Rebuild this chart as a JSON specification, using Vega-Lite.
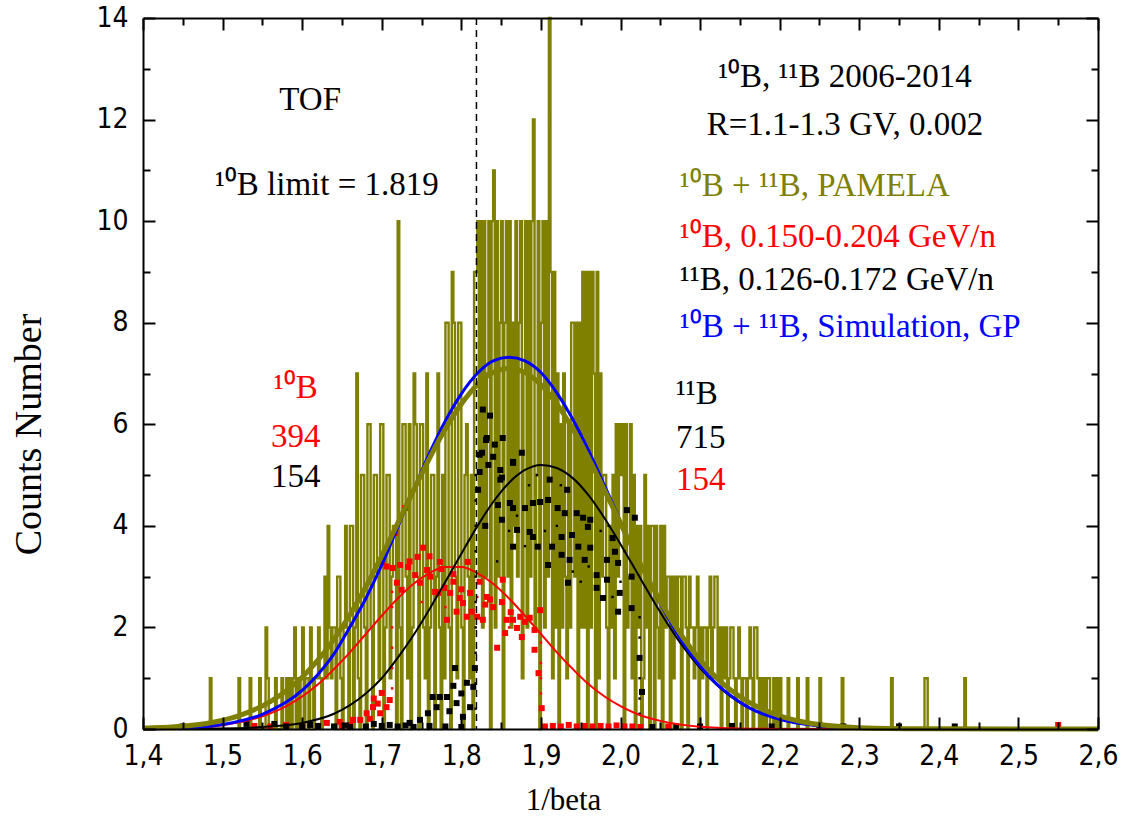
{
"$schema": "https://vega.github.io/schema/vega-lite/v6.json",
"width": 955, "height": 711,
"autosize": {"type": "none"},
"padding": {"left": 143, "top": 18, "right": 23, "bottom": 93},
"background": "white",
"config": {"view": {"stroke": null}, "axis": {"grid": false}},
"resolve": {"axis": {"x": "independent", "y": "independent"}, "scale": {"x": "shared", "y": "shared", "color": "shared"}},
"datasets": {
"hist": [
{"x":1.400,"c":0},{"x":1.484,"c":1},{"x":1.486,"c":0},{"x":1.520,"c":1},{"x":1.522,"c":0},{"x":1.534,"c":1},{"x":1.536,"c":0},{"x":1.546,"c":1},{"x":1.548,"c":0},{"x":1.554,"c":2},{"x":1.556,"c":1},{"x":1.558,"c":0},{"x":1.566,"c":1},{"x":1.568,"c":0},{"x":1.574,"c":1},{"x":1.576,"c":0},{"x":1.580,"c":1},{"x":1.582,"c":0},{"x":1.584,"c":1},{"x":1.586,"c":0},{"x":1.588,"c":1},{"x":1.590,"c":2},{"x":1.592,"c":0},{"x":1.594,"c":1},{"x":1.596,"c":0},{"x":1.598,"c":1},
{"x":1.600,"c":2},{"x":1.602,"c":0},{"x":1.604,"c":1},{"x":1.606,"c":1},{"x":1.608,"c":0},{"x":1.610,"c":2},{"x":1.612,"c":1},{"x":1.614,"c":0},{"x":1.616,"c":1},{"x":1.618,"c":1},
{"x":1.620,"c":2},{"x":1.622,"c":1},{"x":1.624,"c":0},{"x":1.626,"c":1},{"x":1.628,"c":3},{"x":1.630,"c":1},{"x":1.632,"c":4},{"x":1.634,"c":2},{"x":1.636,"c":1},{"x":1.638,"c":2},
{"x":1.640,"c":2},{"x":1.642,"c":0},{"x":1.644,"c":3},{"x":1.646,"c":3},{"x":1.648,"c":1},{"x":1.650,"c":0},{"x":1.652,"c":2},{"x":1.654,"c":4},{"x":1.656,"c":2},{"x":1.658,"c":0},
{"x":1.660,"c":4},{"x":1.662,"c":4},{"x":1.664,"c":0},{"x":1.666,"c":2},{"x":1.668,"c":7},{"x":1.670,"c":1},{"x":1.672,"c":0},{"x":1.674,"c":5},{"x":1.676,"c":5},{"x":1.678,"c":2},
{"x":1.680,"c":0},{"x":1.682,"c":6},{"x":1.684,"c":6},{"x":1.686,"c":2},{"x":1.688,"c":0},{"x":1.690,"c":5},{"x":1.692,"c":5},{"x":1.694,"c":3},{"x":1.696,"c":1},{"x":1.698,"c":6},
{"x":1.700,"c":6},{"x":1.702,"c":0},{"x":1.704,"c":2},{"x":1.706,"c":5},{"x":1.708,"c":5},{"x":1.710,"c":1},{"x":1.712,"c":3},{"x":1.714,"c":4},{"x":1.716,"c":4},{"x":1.718,"c":0},
{"x":1.720,"c":10},{"x":1.722,"c":2},{"x":1.724,"c":0},{"x":1.726,"c":6},{"x":1.728,"c":6},{"x":1.730,"c":3},{"x":1.732,"c":1},{"x":1.734,"c":6},{"x":1.736,"c":0},{"x":1.738,"c":2},
{"x":1.740,"c":7},{"x":1.742,"c":6},{"x":1.744,"c":3},{"x":1.746,"c":0},{"x":1.748,"c":6},{"x":1.750,"c":6},{"x":1.752,"c":2},{"x":1.754,"c":1},{"x":1.756,"c":7},{"x":1.758,"c":0},
{"x":1.760,"c":2},{"x":1.762,"c":5},{"x":1.764,"c":5},{"x":1.766,"c":0},{"x":1.768,"c":3},{"x":1.770,"c":7},{"x":1.772,"c":2},{"x":1.774,"c":0},{"x":1.776,"c":5},{"x":1.778,"c":1},
{"x":1.780,"c":8},{"x":1.782,"c":8},{"x":1.784,"c":2},{"x":1.786,"c":0},{"x":1.788,"c":9},{"x":1.790,"c":8},{"x":1.792,"c":3},{"x":1.794,"c":1},{"x":1.796,"c":8},{"x":1.798,"c":8},
{"x":1.800,"c":2},{"x":1.802,"c":0},{"x":1.804,"c":5},{"x":1.806,"c":6},{"x":1.808,"c":3},{"x":1.810,"c":1},{"x":1.812,"c":5},{"x":1.814,"c":0},{"x":1.816,"c":9},{"x":1.818,"c":9},
{"x":1.820,"c":10},{"x":1.822,"c":3},{"x":1.824,"c":10},{"x":1.826,"c":2},{"x":1.828,"c":10},{"x":1.830,"c":3},{"x":1.832,"c":7},{"x":1.834,"c":10},{"x":1.836,"c":0},{"x":1.838,"c":10},
{"x":1.840,"c":11},{"x":1.842,"c":2},{"x":1.844,"c":10},{"x":1.846,"c":3},{"x":1.848,"c":8},{"x":1.850,"c":10},{"x":1.852,"c":0},{"x":1.854,"c":8},{"x":1.856,"c":10},{"x":1.858,"c":3},
{"x":1.860,"c":10},{"x":1.862,"c":2},{"x":1.864,"c":8},{"x":1.866,"c":4},{"x":1.868,"c":10},{"x":1.870,"c":3},{"x":1.872,"c":8},{"x":1.874,"c":10},{"x":1.876,"c":1},{"x":1.878,"c":7},
{"x":1.880,"c":10},{"x":1.882,"c":2},{"x":1.884,"c":10},{"x":1.886,"c":3},{"x":1.888,"c":10},{"x":1.890,"c":12},{"x":1.892,"c":2},{"x":1.894,"c":5},{"x":1.896,"c":10},{"x":1.898,"c":0},
{"x":1.900,"c":8},{"x":1.902,"c":10},{"x":1.904,"c":2},{"x":1.906,"c":10},{"x":1.908,"c":3},{"x":1.910,"c":14},{"x":1.912,"c":9},{"x":1.914,"c":1},{"x":1.916,"c":9},{"x":1.918,"c":2},
{"x":1.920,"c":7},{"x":1.922,"c":0},{"x":1.924,"c":6},{"x":1.926,"c":2},{"x":1.928,"c":7},{"x":1.930,"c":3},{"x":1.932,"c":1},{"x":1.934,"c":6},{"x":1.936,"c":2},{"x":1.938,"c":8},
{"x":1.940,"c":8},{"x":1.942,"c":3},{"x":1.944,"c":8},{"x":1.946,"c":0},{"x":1.948,"c":8},{"x":1.950,"c":2},{"x":1.952,"c":9},{"x":1.954,"c":2},{"x":1.956,"c":9},{"x":1.958,"c":0},
{"x":1.960,"c":9},{"x":1.962,"c":2},{"x":1.964,"c":9},{"x":1.966,"c":7},{"x":1.968,"c":0},{"x":1.970,"c":9},{"x":1.972,"c":1},{"x":1.974,"c":7},{"x":1.976,"c":3},{"x":1.978,"c":5},
{"x":1.980,"c":5},{"x":1.982,"c":2},{"x":1.984,"c":0},{"x":1.986,"c":4},{"x":1.988,"c":2},{"x":1.990,"c":5},{"x":1.992,"c":1},{"x":1.994,"c":6},{"x":1.996,"c":3},{"x":1.998,"c":6},
{"x":2.000,"c":5},{"x":2.002,"c":6},{"x":2.004,"c":0},{"x":2.006,"c":6},{"x":2.008,"c":2},{"x":2.010,"c":3},{"x":2.012,"c":6},{"x":2.014,"c":1},{"x":2.016,"c":5},{"x":2.018,"c":0},
{"x":2.020,"c":4},{"x":2.022,"c":2},{"x":2.024,"c":4},{"x":2.026,"c":0},{"x":2.028,"c":1},{"x":2.030,"c":5},{"x":2.032,"c":2},{"x":2.034,"c":4},{"x":2.036,"c":0},{"x":2.038,"c":4},
{"x":2.040,"c":4},{"x":2.042,"c":0},{"x":2.044,"c":4},{"x":2.046,"c":2},{"x":2.048,"c":1},{"x":2.050,"c":4},{"x":2.052,"c":0},{"x":2.054,"c":4},{"x":2.056,"c":2},{"x":2.058,"c":3},
{"x":2.060,"c":3},{"x":2.062,"c":0},{"x":2.064,"c":3},{"x":2.066,"c":1},{"x":2.068,"c":3},{"x":2.070,"c":2},{"x":2.072,"c":3},{"x":2.074,"c":3},{"x":2.076,"c":0},{"x":2.078,"c":3},
{"x":2.080,"c":3},{"x":2.082,"c":2},{"x":2.084,"c":0},{"x":2.086,"c":3},{"x":2.088,"c":2},{"x":2.090,"c":2},{"x":2.092,"c":1},{"x":2.094,"c":2},{"x":2.096,"c":3},{"x":2.098,"c":0},
{"x":2.100,"c":2},{"x":2.102,"c":1},{"x":2.104,"c":2},{"x":2.106,"c":2},{"x":2.108,"c":0},{"x":2.110,"c":2},{"x":2.112,"c":3},{"x":2.114,"c":1},{"x":2.116,"c":2},{"x":2.118,"c":3},
{"x":2.120,"c":3},{"x":2.122,"c":1},{"x":2.124,"c":2},{"x":2.126,"c":0},{"x":2.128,"c":2},{"x":2.130,"c":1},{"x":2.132,"c":2},{"x":2.134,"c":0},{"x":2.136,"c":1},{"x":2.138,"c":2},
{"x":2.140,"c":2},{"x":2.142,"c":1},{"x":2.144,"c":0},{"x":2.146,"c":1},{"x":2.148,"c":2},{"x":2.150,"c":1},{"x":2.152,"c":0},{"x":2.154,"c":1},{"x":2.156,"c":1},{"x":2.158,"c":0},
{"x":2.160,"c":1},{"x":2.162,"c":2},{"x":2.164,"c":1},{"x":2.166,"c":0},{"x":2.168,"c":2},{"x":2.170,"c":2},{"x":2.172,"c":1},{"x":2.174,"c":0},{"x":2.176,"c":1},{"x":2.178,"c":0},
{"x":2.180,"c":1},{"x":2.182,"c":0},{"x":2.184,"c":1},{"x":2.186,"c":1},{"x":2.188,"c":0},{"x":2.190,"c":0},{"x":2.192,"c":1},{"x":2.194,"c":0},{"x":2.196,"c":1},{"x":2.198,"c":0},
{"x":2.200,"c":1},{"x":2.202,"c":0},{"x":2.210,"c":1},{"x":2.212,"c":0},{"x":2.222,"c":1},{"x":2.224,"c":0},{"x":2.234,"c":1},{"x":2.236,"c":0},{"x":2.250,"c":1},{"x":2.252,"c":0},{"x":2.278,"c":1},{"x":2.280,"c":0},{"x":2.340,"c":1},{"x":2.342,"c":0},{"x":2.382,"c":1},{"x":2.384,"c":1},{"x":2.386,"c":0},{"x":2.432,"c":1},{"x":2.434,"c":0},{"x":2.600,"c":0}
],
"fits": [
{"x":1.40,"y":0.016,"s":"pamela"},{"x":1.44,"y":0.045,"s":"pamela"},{"x":1.48,"y":0.11,"s":"pamela"},{"x":1.52,"y":0.26,"s":"pamela"},{"x":1.56,"y":0.54,"s":"pamela"},{"x":1.60,"y":1.02,"s":"pamela"},{"x":1.62,"y":1.36,"s":"pamela"},{"x":1.64,"y":1.77,"s":"pamela"},{"x":1.66,"y":2.25,"s":"pamela"},{"x":1.68,"y":2.80,"s":"pamela"},{"x":1.70,"y":3.41,"s":"pamela"},{"x":1.72,"y":4.05,"s":"pamela"},{"x":1.74,"y":4.70,"s":"pamela"},{"x":1.76,"y":5.33,"s":"pamela"},{"x":1.78,"y":5.91,"s":"pamela"},{"x":1.80,"y":6.40,"s":"pamela"},{"x":1.82,"y":6.78,"s":"pamela"},{"x":1.84,"y":7.02,"s":"pamela"},{"x":1.86,"y":7.10,"s":"pamela"},{"x":1.88,"y":7.02,"s":"pamela"},{"x":1.90,"y":6.78,"s":"pamela"},{"x":1.92,"y":6.40,"s":"pamela"},{"x":1.94,"y":5.91,"s":"pamela"},{"x":1.96,"y":5.33,"s":"pamela"},{"x":1.98,"y":4.70,"s":"pamela"},{"x":2.00,"y":4.05,"s":"pamela"},{"x":2.02,"y":3.41,"s":"pamela"},{"x":2.04,"y":2.80,"s":"pamela"},{"x":2.06,"y":2.25,"s":"pamela"},{"x":2.08,"y":1.77,"s":"pamela"},{"x":2.10,"y":1.36,"s":"pamela"},{"x":2.12,"y":1.02,"s":"pamela"},{"x":2.16,"y":0.54,"s":"pamela"},{"x":2.20,"y":0.26,"s":"pamela"},{"x":2.24,"y":0.11,"s":"pamela"},{"x":2.28,"y":0.045,"s":"pamela"},{"x":2.32,"y":0.016,"s":"pamela"},{"x":2.40,"y":0.003,"s":"pamela"},{"x":2.60,"y":0,"s":"pamela"},
{"x":1.40,"y":0.004,"s":"b10"},{"x":1.45,"y":0.019,"s":"b10"},{"x":1.50,"y":0.076,"s":"b10"},{"x":1.55,"y":0.25,"s":"b10"},{"x":1.58,"y":0.45,"s":"b10"},{"x":1.60,"y":0.64,"s":"b10"},{"x":1.62,"y":0.88,"s":"b10"},{"x":1.64,"y":1.18,"s":"b10"},{"x":1.66,"y":1.51,"s":"b10"},{"x":1.68,"y":1.87,"s":"b10"},{"x":1.70,"y":2.23,"s":"b10"},{"x":1.72,"y":2.57,"s":"b10"},{"x":1.74,"y":2.86,"s":"b10"},{"x":1.76,"y":3.07,"s":"b10"},{"x":1.78,"y":3.19,"s":"b10"},{"x":1.80,"y":3.19,"s":"b10"},{"x":1.82,"y":3.07,"s":"b10"},{"x":1.84,"y":2.86,"s":"b10"},{"x":1.86,"y":2.57,"s":"b10"},{"x":1.88,"y":2.23,"s":"b10"},{"x":1.90,"y":1.87,"s":"b10"},{"x":1.92,"y":1.51,"s":"b10"},{"x":1.94,"y":1.18,"s":"b10"},{"x":1.96,"y":0.88,"s":"b10"},{"x":1.98,"y":0.64,"s":"b10"},{"x":2.00,"y":0.45,"s":"b10"},{"x":2.02,"y":0.30,"s":"b10"},{"x":2.05,"y":0.16,"s":"b10"},{"x":2.10,"y":0.044,"s":"b10"},{"x":2.15,"y":0.01,"s":"b10"},{"x":2.20,"y":0.002,"s":"b10"},{"x":2.60,"y":0,"s":"b10"},
{"x":1.40,"y":0,"s":"b11"},{"x":1.50,"y":0.01,"s":"b11"},{"x":1.55,"y":0.04,"s":"b11"},{"x":1.60,"y":0.12,"s":"b11"},{"x":1.64,"y":0.30,"s":"b11"},{"x":1.68,"y":0.70,"s":"b11"},{"x":1.70,"y":1.0,"s":"b11"},{"x":1.72,"y":1.40,"s":"b11"},{"x":1.74,"y":1.85,"s":"b11"},{"x":1.76,"y":2.36,"s":"b11"},{"x":1.78,"y":2.90,"s":"b11"},{"x":1.80,"y":3.45,"s":"b11"},{"x":1.82,"y":3.99,"s":"b11"},{"x":1.84,"y":4.47,"s":"b11"},{"x":1.86,"y":4.85,"s":"b11"},{"x":1.88,"y":5.10,"s":"b11"},{"x":1.90,"y":5.20,"s":"b11"},{"x":1.92,"y":5.14,"s":"b11"},{"x":1.94,"y":4.94,"s":"b11"},{"x":1.96,"y":4.60,"s":"b11"},{"x":1.98,"y":4.15,"s":"b11"},{"x":2.00,"y":3.64,"s":"b11"},{"x":2.02,"y":3.10,"s":"b11"},{"x":2.04,"y":2.56,"s":"b11"},{"x":2.06,"y":2.05,"s":"b11"},{"x":2.08,"y":1.59,"s":"b11"},{"x":2.10,"y":1.20,"s":"b11"},{"x":2.12,"y":0.88,"s":"b11"},{"x":2.14,"y":0.62,"s":"b11"},{"x":2.16,"y":0.43,"s":"b11"},{"x":2.20,"y":0.19,"s":"b11"},{"x":2.25,"y":0.06,"s":"b11"},{"x":2.30,"y":0.015,"s":"b11"},{"x":2.40,"y":0,"s":"b11"},{"x":2.60,"y":0,"s":"b11"},
{"x":1.40,"y":0.004,"s":"sim"},{"x":1.45,"y":0.021,"s":"sim"},{"x":1.50,"y":0.087,"s":"sim"},{"x":1.55,"y":0.29,"s":"sim"},{"x":1.60,"y":0.76,"s":"sim"},{"x":1.62,"y":1.08,"s":"sim"},{"x":1.64,"y":1.48,"s":"sim"},{"x":1.66,"y":2.01,"s":"sim"},{"x":1.68,"y":2.57,"s":"sim"},{"x":1.70,"y":3.23,"s":"sim"},{"x":1.72,"y":3.97,"s":"sim"},{"x":1.74,"y":4.71,"s":"sim"},{"x":1.76,"y":5.43,"s":"sim"},{"x":1.78,"y":6.07,"s":"sim"},{"x":1.80,"y":6.60,"s":"sim"},{"x":1.82,"y":7.00,"s":"sim"},{"x":1.84,"y":7.25,"s":"sim"},{"x":1.86,"y":7.32,"s":"sim"},{"x":1.88,"y":7.25,"s":"sim"},{"x":1.90,"y":7.02,"s":"sim"},{"x":1.92,"y":6.62,"s":"sim"},{"x":1.94,"y":6.10,"s":"sim"},{"x":1.96,"y":5.48,"s":"sim"},{"x":1.98,"y":4.79,"s":"sim"},{"x":2.00,"y":4.09,"s":"sim"},{"x":2.02,"y":3.40,"s":"sim"},{"x":2.04,"y":2.78,"s":"sim"},{"x":2.06,"y":2.18,"s":"sim"},{"x":2.08,"y":1.66,"s":"sim"},{"x":2.10,"y":1.24,"s":"sim"},{"x":2.12,"y":0.90,"s":"sim"},{"x":2.14,"y":0.64,"s":"sim"},{"x":2.16,"y":0.43,"s":"sim"},{"x":2.20,"y":0.19,"s":"sim"},{"x":2.25,"y":0.06,"s":"sim"},{"x":2.30,"y":0.015,"s":"sim"},{"x":2.40,"y":0.002,"s":"sim"},{"x":2.60,"y":0,"s":"sim"}
],
"pts": [
{"x":1.729,"y":4.35,"s":"b10"},{"x":1.717,"y":3.86,"s":"b10"},{"x":1.752,"y":3.57,"s":"b10"},{"x":1.745,"y":3.39,"s":"b10"},{"x":1.723,"y":3.23,"s":"b10"},{"x":1.714,"y":3.17,"s":"b10"},{"x":1.733,"y":3.19,"s":"b10"},{"x":1.773,"y":3.29,"s":"b10"},{"x":1.757,"y":3.13,"s":"b10"},{"x":1.742,"y":3.03,"s":"b10"},{"x":1.761,"y":3.0,"s":"b10"},{"x":1.748,"y":2.88,"s":"b10"},{"x":1.719,"y":2.88,"s":"b10"},{"x":1.725,"y":2.74,"s":"b10"},{"x":1.767,"y":2.70,"s":"b10"},{"x":1.771,"y":2.68,"s":"b10"},{"x":1.779,"y":2.78,"s":"b10"},{"x":1.786,"y":2.68,"s":"b10"},{"x":1.798,"y":2.58,"s":"b10"},{"x":1.794,"y":2.31,"s":"b10"},{"x":1.782,"y":2.15,"s":"b10"},{"x":1.807,"y":2.21,"s":"b10"},{"x":1.813,"y":2.31,"s":"b10"},{"x":1.802,"y":2.48,"s":"b10"},{"x":1.811,"y":2.68,"s":"b10"},{"x":1.808,"y":3.29,"s":"b10"},{"x":1.823,"y":2.90,"s":"b10"},{"x":1.832,"y":2.60,"s":"b10"},{"x":1.827,"y":2.15,"s":"b10"},{"x":1.840,"y":2.40,"s":"b10"},{"x":1.851,"y":2.50,"s":"b10"},{"x":1.852,"y":2.94,"s":"b10"},{"x":1.857,"y":2.15,"s":"b10"},{"x":1.865,"y":2.15,"s":"b10"},{"x":1.870,"y":1.99,"s":"b10"},{"x":1.845,"y":1.60,"s":"b10"},{"x":1.820,"y":2.21,"s":"b10"},{"x":1.701,"y":3.29,"s":"b10"},{"x":1.706,"y":3.2,"s":"b10"},{"x":1.874,"y":2.21,"s":"b10"},{"x":1.880,"y":2.11,"s":"b10"},{"x":1.886,"y":2.19,"s":"b10"},{"x":1.892,"y":1.95,"s":"b10"},{"x":1.899,"y":2.34,"s":"b10"},{"x":1.876,"y":1.81,"s":"b10"},{"x":1.855,"y":1.89,"s":"b10"},{"x":1.892,"y":1.56,"s":"b10"},{"x":1.897,"y":1.10,"s":"b10"},{"x":1.901,"y":0.41,"s":"b10"},{"x":1.735,"y":3.3,"s":"b10"},{"x":1.76,"y":3.4,"s":"b10"},{"x":1.79,"y":3.05,"s":"b10"},{"x":1.775,"y":3.15,"s":"b10"},{"x":1.83,"y":2.45,"s":"b10"},{"x":1.836,"y":2.55,"s":"b10"},{"x":1.862,"y":2.3,"s":"b10"},{"x":1.79,"y":2.9,"s":"b10"},{"x":1.80,"y":2.75,"s":"b10"},
{"x":1.700,"y":0.71,"s":"b10"},{"x":1.710,"y":0.57,"s":"b10"},{"x":1.706,"y":0.43,"s":"b10"},{"x":1.698,"y":0.31,"s":"b10"},{"x":1.689,"y":0.43,"s":"b10"},{"x":1.681,"y":0.31,"s":"b10"},{"x":1.673,"y":0.18,"s":"b10"},{"x":1.664,"y":0.18,"s":"b10"},{"x":1.647,"y":0.14,"s":"b10"},{"x":1.631,"y":0.12,"s":"b10"},{"x":1.69,"y":0.6,"s":"b10"},{"x":1.695,"y":0.5,"s":"b10"},{"x":1.685,"y":0.2,"s":"b10"},{"x":1.66,"y":0.08,"s":"b10"},{"x":1.62,"y":0.06,"s":"b10"},{"x":1.60,"y":0.05,"s":"b10"},{"x":1.58,"y":0.08,"s":"b10"},{"x":1.56,"y":0.05,"s":"b10"},{"x":1.54,"y":0.06,"s":"b10"},{"x":1.65,"y":0.05,"s":"b10"},
{"x":1.905,"y":0.05,"s":"b10"},{"x":1.915,"y":0.06,"s":"b10"},{"x":1.925,"y":0.05,"s":"b10"},{"x":1.935,"y":0.08,"s":"b10"},{"x":1.945,"y":0.05,"s":"b10"},{"x":1.955,"y":0.06,"s":"b10"},{"x":1.965,"y":0.05,"s":"b10"},{"x":1.975,"y":0.06,"s":"b10"},{"x":1.985,"y":0.05,"s":"b10"},{"x":1.995,"y":0.07,"s":"b10"},{"x":2.005,"y":0.05,"s":"b10"},{"x":2.015,"y":0.05,"s":"b10"},{"x":2.025,"y":0.04,"s":"b10"},{"x":2.06,"y":0.05,"s":"b10"},{"x":2.55,"y":0.08,"s":"b10"},
{"x":1.852,"y":5.73,"s":"b11"},{"x":1.876,"y":5.44,"s":"b11"},{"x":1.865,"y":5.26,"s":"b11"},{"x":1.851,"y":4.95,"s":"b11"},{"x":1.861,"y":4.45,"s":"b11"},{"x":1.865,"y":4.35,"s":"b11"},{"x":1.880,"y":4.35,"s":"b11"},{"x":1.890,"y":4.45,"s":"b11"},{"x":1.899,"y":4.47,"s":"b11"},{"x":1.909,"y":4.51,"s":"b11"},{"x":1.911,"y":4.91,"s":"b11"},{"x":1.933,"y":4.71,"s":"b11"},{"x":1.921,"y":4.35,"s":"b11"},{"x":1.930,"y":4.25,"s":"b11"},{"x":1.945,"y":4.25,"s":"b11"},{"x":1.953,"y":4.16,"s":"b11"},{"x":1.962,"y":4.12,"s":"b11"},{"x":1.870,"y":3.92,"s":"b11"},{"x":1.886,"y":3.88,"s":"b11"},{"x":1.890,"y":3.78,"s":"b11"},{"x":1.865,"y":3.59,"s":"b11"},{"x":1.896,"y":3.59,"s":"b11"},{"x":1.914,"y":3.59,"s":"b11"},{"x":1.926,"y":3.78,"s":"b11"},{"x":1.939,"y":3.82,"s":"b11"},{"x":1.959,"y":3.98,"s":"b11"},{"x":1.947,"y":3.59,"s":"b11"},{"x":1.909,"y":3.23,"s":"b11"},{"x":1.926,"y":3.43,"s":"b11"},{"x":1.936,"y":3.33,"s":"b11"},{"x":1.955,"y":3.33,"s":"b11"},{"x":1.990,"y":3.76,"s":"b11"},{"x":1.993,"y":3.49,"s":"b11"},{"x":2.008,"y":4.31,"s":"b11"},{"x":2.018,"y":4.16,"s":"b11"},{"x":1.983,"y":3.33,"s":"b11"},{"x":1.997,"y":3.27,"s":"b11"},{"x":1.970,"y":3.03,"s":"b11"},{"x":1.983,"y":2.94,"s":"b11"},{"x":1.934,"y":2.88,"s":"b11"},{"x":2.014,"y":3.0,"s":"b11"},{"x":1.978,"y":2.58,"s":"b11"},{"x":1.970,"y":2.78,"s":"b11"},{"x":1.999,"y":2.68,"s":"b11"},{"x":1.997,"y":2.31,"s":"b11"},{"x":2.014,"y":2.38,"s":"b11"},{"x":2.024,"y":1.40,"s":"b11"},{"x":2.027,"y":0.73,"s":"b11"},{"x":1.962,"y":3.57,"s":"b11"},
{"x":1.827,"y":6.29,"s":"b11"},{"x":1.836,"y":6.17,"s":"b11"},{"x":1.831,"y":5.69,"s":"b11"},{"x":1.842,"y":5.6,"s":"b11"},{"x":1.823,"y":5.4,"s":"b11"},{"x":1.834,"y":5.2,"s":"b11"},{"x":1.849,"y":5.1,"s":"b11"},{"x":1.821,"y":4.71,"s":"b11"},{"x":1.83,"y":4.0,"s":"b11"},{"x":1.846,"y":4.41,"s":"b11"},{"x":1.832,"y":5.73,"s":"b11"},{"x":1.826,"y":5.44,"s":"b11"},{"x":1.84,"y":5.36,"s":"b11"},{"x":1.823,"y":5.06,"s":"b11"},{"x":1.849,"y":4.91,"s":"b11"},{"x":1.865,"y":5.24,"s":"b11"},{"x":1.851,"y":4.12,"s":"b11"},
{"x":1.792,"y":1.2,"s":"b11"},{"x":1.807,"y":0.91,"s":"b11"},{"x":1.817,"y":1.2,"s":"b11"},{"x":1.815,"y":0.83,"s":"b11"},{"x":1.782,"y":0.63,"s":"b11"},{"x":1.773,"y":0.63,"s":"b11"},{"x":1.764,"y":0.63,"s":"b11"},{"x":1.794,"y":0.51,"s":"b11"},{"x":1.811,"y":0.43,"s":"b11"},{"x":1.769,"y":0.43,"s":"b11"},{"x":1.758,"y":0.31,"s":"b11"},{"x":1.748,"y":0.18,"s":"b11"},{"x":1.802,"y":0.24,"s":"b11"},{"x":1.735,"y":0.12,"s":"b11"},{"x":1.79,"y":0.85,"s":"b11"},{"x":1.80,"y":0.7,"s":"b11"},{"x":1.785,"y":0.35,"s":"b11"},
{"x":1.58,"y":0.05,"s":"b11"},{"x":1.60,"y":0.04,"s":"b11"},{"x":1.62,"y":0.06,"s":"b11"},{"x":1.64,"y":0.05,"s":"b11"},{"x":1.66,"y":0.04,"s":"b11"},{"x":1.68,"y":0.05,"s":"b11"},{"x":1.70,"y":0.06,"s":"b11"},{"x":1.72,"y":0.05,"s":"b11"},{"x":1.74,"y":0.04,"s":"b11"},{"x":1.76,"y":0.06,"s":"b11"},{"x":1.78,"y":0.05,"s":"b11"},{"x":1.80,"y":0.04,"s":"b11"},{"x":1.565,"y":0.1,"s":"b11"},{"x":1.61,"y":0.08,"s":"b11"},{"x":1.655,"y":0.07,"s":"b11"},{"x":1.69,"y":0.1,"s":"b11"},{"x":1.71,"y":0.08,"s":"b11"},{"x":1.73,"y":0.07,"s":"b11"},{"x":2.04,"y":0.04,"s":"b11"},{"x":2.07,"y":0.05,"s":"b11"},{"x":2.10,"y":0.05,"s":"b11"},{"x":2.14,"y":0.06,"s":"b11"},{"x":2.19,"y":0.05,"s":"b11"},{"x":2.25,"y":0.08,"s":"b11"},{"x":2.35,"y":0.05,"s":"b11"},{"x":2.28,"y":0.05,"s":"b11"},{"x":2.42,"y":0.05,"s":"b11"},{"x":1.45,"y":0.05,"s":"b11"},{"x":1.53,"y":0.1,"s":"b11"}
],
"dots": [
{"x":1.713,"y":0.8,"s":"b10"},{"x":1.713,"y":1.2,"s":"b10"},{"x":1.713,"y":1.6,"s":"b10"},{"x":1.713,"y":2.0,"s":"b10"},{"x":1.713,"y":2.4,"s":"b10"},{"x":1.713,"y":2.7,"s":"b10"},{"x":1.900,"y":0.7,"s":"b10"},{"x":1.900,"y":1.0,"s":"b10"},{"x":1.900,"y":1.3,"s":"b10"},{"x":1.900,"y":1.7,"s":"b10"},{"x":1.75,"y":2.5,"s":"b10"},{"x":1.78,"y":2.4,"s":"b10"},{"x":1.82,"y":2.6,"s":"b10"},{"x":1.86,"y":2.0,"s":"b10"},
{"x":1.818,"y":0.4,"s":"b11"},{"x":1.818,"y":0.9,"s":"b11"},{"x":1.818,"y":1.5,"s":"b11"},{"x":1.818,"y":2.0,"s":"b11"},{"x":1.818,"y":2.5,"s":"b11"},{"x":1.818,"y":3.0,"s":"b11"},{"x":1.818,"y":3.5,"s":"b11"},{"x":1.818,"y":4.0,"s":"b11"},{"x":1.818,"y":4.5,"s":"b11"},{"x":1.818,"y":5.0,"s":"b11"},{"x":2.024,"y":0.3,"s":"b11"},{"x":2.024,"y":0.6,"s":"b11"},{"x":2.024,"y":1.0,"s":"b11"},{"x":2.024,"y":1.8,"s":"b11"},{"x":2.024,"y":2.2,"s":"b11"},{"x":1.87,"y":4.2,"s":"b11"},{"x":1.88,"y":3.6,"s":"b11"},{"x":1.885,"y":4.8,"s":"b11"},{"x":1.895,"y":5.0,"s":"b11"},{"x":1.92,"y":4.0,"s":"b11"},{"x":1.94,"y":3.1,"s":"b11"},{"x":1.95,"y":2.9,"s":"b11"},{"x":1.96,"y":3.2,"s":"b11"},{"x":1.975,"y":3.9,"s":"b11"},{"x":1.985,"y":4.0,"s":"b11"},{"x":1.99,"y":2.6,"s":"b11"},{"x":2.0,"y":2.9,"s":"b11"},{"x":2.005,"y":3.5,"s":"b11"},{"x":1.925,"y":4.8,"s":"b11"},{"x":1.905,"y":3.9,"s":"b11"},{"x":1.86,"y":3.9,"s":"b11"},{"x":1.845,"y":3.3,"s":"b11"}
],
"txtc": [
{"x":1.61,"y":12.39,"t":"TOF","s":"b11"},
{"x":1.631,"y":10.72,"t":"¹⁰B limit = 1.819","s":"b11"},
{"x":2.282,"y":12.83,"t":"¹⁰B, ¹¹B 2006-2014","s":"b11"},
{"x":2.282,"y":11.9,"t":"R=1.1-1.3 GV, 0.002","s":"b11"},
{"x":1.592,"y":6.72,"t":"¹⁰B","s":"b10"},
{"x":1.592,"y":5.75,"t":"394","s":"b10"},
{"x":1.592,"y":4.97,"t":"154","s":"b11"}
],
"txtl": [
{"x":2.0746,"y":10.70,"t":"¹⁰B + ¹¹B, PAMELA","s":"pamela"},
{"x":2.0746,"y":9.69,"t":"¹⁰B, 0.150-0.204 GeV/n","s":"b10"},
{"x":2.0746,"y":8.85,"t":"¹¹B, 0.126-0.172 GeV/n","s":"b11"},
{"x":2.0746,"y":7.92,"t":"¹⁰B + ¹¹B, Simulation, GP","s":"sim"},
{"x":2.0696,"y":6.6,"t":"¹¹B","s":"b11"},
{"x":2.0696,"y":5.73,"t":"715","s":"b11"},
{"x":2.0696,"y":4.91,"t":"154","s":"b10"}
],
"limit": [{"lim":1.819}]
},
"layer": [
{"data":{"name":"hist"},
 "mark":{"type":"line","interpolate":"step-after","color":"#808000","strokeWidth":2.4},
 "encoding":{
  "x":{"field":"x","type":"quantitative","scale":{"domain":[1.4,2.6],"nice":false,"zero":false},
   "axis":{"orient":"bottom","values":[1.4,1.5,1.6,1.7,1.8,1.9,2.0,2.1,2.2,2.3,2.4,2.5,2.6],"labelExpr":"replace(format(datum.value,'.1f'),'.',',')","labelFont":"Liberation Sans Narrow, DejaVu Sans Condensed, Liberation Sans","labelFontSize":28,"labelColor":"black","labelPadding":25,"labelFlush":false,"labelOverlap":false,"tickSize":-12,"tickWidth":2,"tickColor":"black","domainColor":"black","domainWidth":2,"title":"1/beta","titleFont":"Liberation Serif","titleFontSize":31,"titleFontWeight":"normal","titleColor":"black","titleX":420,"titleY":71,"titleBaseline":"middle","titleAlign":"center","zindex":1}},
  "y":{"field":"c","type":"quantitative","scale":{"domain":[0,14],"nice":false,"zero":false},
   "axis":{"orient":"left","values":[0,2,4,6,8,10,12,14],"format":"d","labelFont":"Liberation Sans Narrow, DejaVu Sans Condensed, Liberation Sans","labelFontSize":28,"labelColor":"black","labelPadding":27,"labelFlush":false,"labelOverlap":false,"tickSize":-12,"tickWidth":2,"tickColor":"black","domainColor":"black","domainWidth":2,"title":"Counts Number","titleFont":"Liberation Serif","titleFontSize":38,"titleFontWeight":"normal","titleColor":"black","titleX":-114,"titleY":416,"titleAngle":270,"titleAlign":"center","titleBaseline":"middle","zindex":1}}
 }},
{"data":{"name":"pts"},
 "mark":{"type":"point","shape":"square","filled":true,"size":36,"opacity":1},
 "encoding":{
  "x":{"field":"x","type":"quantitative","axis":{"orient":"bottom","values":[1.45,1.55,1.65,1.75,1.85,1.95,2.05,2.15,2.25,2.35,2.45,2.55],"labels":false,"domain":false,"tickSize":-7,"tickWidth":2,"tickColor":"black","title":null,"zindex":1}},
  "y":{"field":"y","type":"quantitative","axis":{"orient":"left","values":[1,3,5,7,9,11,13],"labels":false,"domain":false,"tickSize":-7,"tickWidth":2,"tickColor":"black","title":null,"zindex":1}},
  "color":{"field":"s","type":"nominal","scale":{"domain":["pamela","b10","b11","sim"],"range":["#808000","#ff0000","#000000","#0000ff"]},"legend":null}
 }},
{"data":{"name":"dots"},
 "mark":{"type":"point","shape":"square","filled":true,"size":6,"opacity":1},
 "encoding":{
  "x":{"field":"x","type":"quantitative","axis":null},
  "y":{"field":"y","type":"quantitative","axis":null},
  "color":{"field":"s","type":"nominal","legend":null}
 }},
{"data":{"name":"fits"},
 "transform":[{"filter":"datum.s == 'b10'"}],
 "mark":{"type":"line","interpolate":"monotone","color":"#ff0000","strokeWidth":2},
 "encoding":{
  "x":{"field":"x","type":"quantitative","axis":{"orient":"top","values":[1.4,1.5,1.6,1.7,1.8,1.9,2.0,2.1,2.2,2.3,2.4,2.5,2.6],"labels":false,"tickSize":-12,"tickWidth":2,"tickColor":"black","domainColor":"black","domainWidth":2,"title":null,"zindex":1}},
  "y":{"field":"y","type":"quantitative","axis":{"orient":"right","values":[0,2,4,6,8,10,12,14],"labels":false,"tickSize":-12,"tickWidth":2,"tickColor":"black","domainColor":"black","domainWidth":2,"title":null,"zindex":1}}
 }},
{"data":{"name":"fits"},
 "transform":[{"filter":"datum.s == 'b11'"}],
 "mark":{"type":"line","interpolate":"monotone","color":"#000000","strokeWidth":2},
 "encoding":{
  "x":{"field":"x","type":"quantitative","axis":{"orient":"top","values":[1.45,1.55,1.65,1.75,1.85,1.95,2.05,2.15,2.25,2.35,2.45,2.55],"labels":false,"domain":false,"tickSize":-7,"tickWidth":2,"tickColor":"black","title":null,"zindex":1}},
  "y":{"field":"y","type":"quantitative","axis":{"orient":"right","values":[1,3,5,7,9,11,13],"labels":false,"domain":false,"tickSize":-7,"tickWidth":2,"tickColor":"black","title":null,"zindex":1}}
 }},
{"data":{"name":"fits"},
 "transform":[{"filter":"datum.s == 'sim'"}],
 "mark":{"type":"line","interpolate":"monotone","color":"#0000ff","strokeWidth":3},
 "encoding":{
  "x":{"field":"x","type":"quantitative","axis":null},
  "y":{"field":"y","type":"quantitative","axis":null}
 }},
{"data":{"name":"fits"},
 "transform":[{"filter":"datum.s == 'pamela'"}],
 "mark":{"type":"line","interpolate":"monotone","color":"#808000","strokeWidth":5},
 "encoding":{
  "x":{"field":"x","type":"quantitative","axis":null},
  "y":{"field":"y","type":"quantitative","axis":null}
 }},
{"data":{"name":"limit"},
 "mark":{"type":"rule","color":"black","strokeWidth":1.5,"strokeDash":[7,5]},
 "encoding":{
  "x":{"field":"lim","type":"quantitative","axis":null}
 }},
{"data":{"name":"txtc"},
 "mark":{"type":"text","font":"Liberation Serif","fontSize":33,"align":"center","baseline":"middle"},
 "encoding":{
  "x":{"field":"x","type":"quantitative","axis":null},
  "y":{"field":"y","type":"quantitative","axis":null},
  "text":{"field":"t"},
  "color":{"field":"s","type":"nominal","legend":null}
 }},
{"data":{"name":"txtl"},
 "mark":{"type":"text","font":"Liberation Serif","fontSize":33,"align":"left","baseline":"middle"},
 "encoding":{
  "x":{"field":"x","type":"quantitative","axis":null},
  "y":{"field":"y","type":"quantitative","axis":null},
  "text":{"field":"t"},
  "color":{"field":"s","type":"nominal","legend":null}
 }}
]
}
